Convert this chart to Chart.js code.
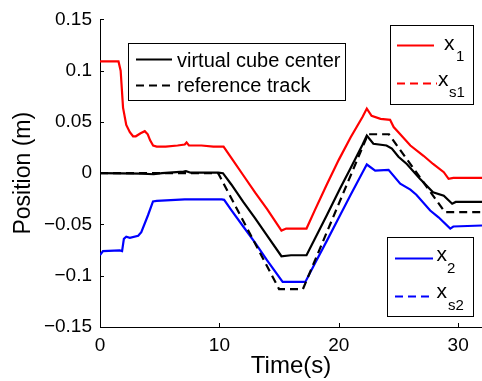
<!DOCTYPE html>
<html>
<head>
<meta charset="utf-8">
<script src="https://cdn.jsdelivr.net/npm/chart.js@4"></script>
<style>
  body { margin: 0; background: #fff; }
  canvas { display: block; }
</style>
</head>
<body>
<canvas id="chart" width="482" height="381"></canvas>
<script>
// --- data ---
const xTicks = [0, 10, 20, 30];
const yTicks = [-0.15, -0.1, -0.05, 0, 0.05, 0.1, 0.15];

const x1T = [0, 1.55, 1.73, 1.93, 2.2, 2.5, 2.77, 3.0, 3.4, 3.75, 4.0, 4.2, 4.45, 4.75, 5.5, 6.5, 7.1, 7.25, 7.45, 8.5, 9.5, 10.35, 11, 12, 13, 14, 15.2, 15.6, 16.5, 17.3, 18, 19, 20, 21, 22, 22.35, 22.75, 23.5, 24.3, 24.6, 25.15, 26.0, 27.1, 27.9, 28.8, 29.2, 29.6, 32];
const x1Y = [0.109, 0.109, 0.100, 0.064, 0.047, 0.040, 0.036, 0.036, 0.039, 0.041, 0.038, 0.032, 0.027, 0.026, 0.026, 0.027, 0.028, 0.030, 0.027, 0.027, 0.026, 0.026, 0.015, -0.002, -0.019, -0.035, -0.056, -0.054, -0.054, -0.054, -0.036, -0.011, 0.013, 0.035, 0.055, 0.063, 0.056, 0.053, 0.052, 0.045, 0.038, 0.027, 0.017, 0.009, 0.001, -0.0055, -0.0045, -0.0045];

const x2T = [0, 0.25, 1.65, 1.85, 2.0, 2.2, 2.5, 3.2, 3.46, 4.02, 4.44, 4.75, 7.1, 10.2, 10.4, 11, 12, 13, 14, 15.3, 17.2, 18, 19, 20.1, 21, 22, 22.35, 23.05, 24.17, 25.15, 26.0, 26.5, 27.66, 28.36, 29.34, 29.6, 32];
const x2Y = [-0.080, -0.076, -0.0753, -0.076, -0.064, -0.062, -0.063, -0.061, -0.0575, -0.041, -0.0275, -0.027, -0.0256, -0.0256, -0.026, -0.036, -0.052, -0.068, -0.085, -0.106, -0.106, -0.088, -0.066, -0.0412, -0.021, 0.001, 0.0085, 0.0026, 0.0033, -0.0103, -0.016, -0.021, -0.0364, -0.043, -0.054, -0.052, -0.051];

const centerT = [0, 3.5, 4.5, 5.2, 7.0, 7.2, 7.6, 9.9, 10.3, 11, 12, 13, 14, 15.2, 16, 17.3, 18, 19, 20.1, 21, 22, 22.35, 22.9, 24.0, 24.45, 25.0, 25.7, 26.8, 27.9, 28.8, 29.5, 29.8, 32];
const centerY = [0, -0.0005, -0.001, 0, 0.0015, 0.002, 0.0005, 0.0005, 0, -0.011, -0.028, -0.044, -0.061, -0.081, -0.080, -0.080, -0.064, -0.041, -0.0152, 0.005, 0.028, 0.0367, 0.0287, 0.027, 0.024, 0.016, 0.009, -0.0055, -0.0185, -0.022, -0.0298, -0.028, -0.028];

const refT = [0, 9.9, 15.0, 17.0, 22.45, 24.2, 28.9, 32];
const refY = [0, 0, -0.113, -0.113, 0.038, 0.038, -0.038, -0.038];

const FONT = '"Liberation Sans", Arial, Helvetica, sans-serif';
const DASH = [8, 5];

const pts = (t, y) => t.map((v, i) => ({ x: v, y: y[i] }));

function series(label, t, y, color, dashed) {
    return {
        label, data: pts(t, y),
        borderColor: color, backgroundColor: color,
        borderWidth: 2.2, borderDash: dashed ? DASH : [],
        pointRadius: 0, tension: 0, fill: false
    };
}

const datasets = [
    series('virtual cube center', centerT, centerY, '#000000', false),
    series('reference track', refT, refY, '#000000', true),
    series('x1', x1T, x1Y, '#ff0000', false),
    series('xs1', [], [], '#ff0000', true),
    series('x2', x2T, x2Y, '#0000ff', false),
    series('xs2', [], [], '#0000ff', true)
];

const fmt = v => {
    const r = Math.round(v * 100) / 100;
    return r === 0 ? '0' : String(r).replace('-', '\u2212');
};

// inward tick marks, MATLAB style
const innerTicks = {
    id: 'innerTicks',
    afterDraw(chart) {
        const { ctx, chartArea: a, scales: { x, y } } = chart;
        ctx.save();
        ctx.strokeStyle = '#000';
        ctx.lineWidth = 1;
        ctx.beginPath();
        xTicks.forEach(v => {
            const px = Math.round(x.getPixelForValue(v)) + 0.5;
            ctx.moveTo(px, a.bottom); ctx.lineTo(px, a.bottom - 4);
        });
        yTicks.forEach(v => {
            const py = Math.round(y.getPixelForValue(v)) + 0.5;
            ctx.moveTo(a.left, py); ctx.lineTo(a.left + 4, py);
        });
        ctx.stroke();
        ctx.restore();
    }
};

// three separate legend boxes
const boxes = [
    { rect: [128, 43, 217, 57], items: [
        { ds: 0, line: [136, 172, 59.5], text: [{ s: 'virtual cube center', x: 177, y: 66.5, size: 20 }] },
        { ds: 1, line: [136, 172, 85.5], text: [{ s: 'reference track', x: 177, y: 91.5, size: 20 }] }
    ] },
    { rect: [390, 25, 83, 79], items: [
        { ds: 2, line: [397, 434, 45.5], text: [{ s: 'x', x: 444, y: 49.5, size: 21 }, { s: '1', x: 456, y: 61, size: 15 }] },
        { ds: 3, line: [397, 437, 83.5], text: [{ s: 'x', x: 438, y: 86, size: 21 }, { s: 's1', x: 449, y: 97, size: 15 }] }
    ] },
    { rect: [387, 237, 86, 79], items: [
        { ds: 4, line: [395, 433, 258.5], text: [{ s: 'x', x: 436.5, y: 260.5, size: 21 }, { s: '2', x: 447, y: 272.5, size: 15 }] },
        { ds: 5, line: [395, 433, 296.5], text: [{ s: 'x', x: 436.5, y: 298, size: 21 }, { s: 's2', x: 448, y: 310, size: 15 }] }
    ] }
];

const boxLegend = {
    id: 'boxLegend',
    afterDraw(chart) {
        const ctx = chart.ctx;
        ctx.save();
        boxes.forEach(b => {
            const [bx, by, bw, bh] = b.rect;
            ctx.fillStyle = '#fff';
            ctx.fillRect(bx, by, bw, bh);
            ctx.strokeStyle = '#000';
            ctx.lineWidth = 1;
            ctx.setLineDash([]);
            ctx.strokeRect(bx + 0.5, by + 0.5, bw, bh);
            b.items.forEach(it => {
                const ds = chart.data.datasets[it.ds];
                ctx.strokeStyle = ds.borderColor;
                ctx.lineWidth = ds.borderWidth;
                ctx.setLineDash(ds.borderDash);
                ctx.beginPath();
                ctx.moveTo(it.line[0], it.line[2]);
                ctx.lineTo(it.line[1], it.line[2]);
                ctx.stroke();
                ctx.setLineDash([]);
                ctx.fillStyle = '#000';
                ctx.textBaseline = 'alphabetic';
                ctx.textAlign = 'left';
                it.text.forEach(t => {
                    ctx.font = t.size + 'px ' + FONT;
                    ctx.fillText(t.s, t.x, t.y);
                });
            });
        });
        ctx.restore();
    }
};

new Chart(document.getElementById('chart'), {
    type: 'line',
    data: { datasets },
    options: {
        responsive: false,
        devicePixelRatio: 1,
        animation: false,
        layout: { padding: { top: 19, right: 0, left: 0, bottom: 0 } },
        plugins: { legend: { display: false }, tooltip: { enabled: false } },
        scales: {
            x: {
                type: 'linear', min: 0, max: 32,
                afterBuildTicks: s => { s.ticks = xTicks.map(v => ({ value: v })); },
                afterFit: s => { s.height = 54; },
                grid: { display: false, drawTicks: false },
                border: { display: true, color: '#000', width: 1 },
                ticks: { color: '#000', padding: 7, maxRotation: 0, font: { family: FONT, size: 19 } },
                title: { display: true, text: 'Time(s)', color: '#000', padding: { top: 0, bottom: 0 }, font: { family: FONT, size: 24 } }
            },
            y: {
                type: 'linear', min: -0.15, max: 0.15,
                afterBuildTicks: s => { s.ticks = yTicks.map(v => ({ value: v })); },
                afterFit: s => { s.width = 100; },
                grid: { display: false, drawTicks: false },
                border: { display: true, color: '#000', width: 1 },
                ticks: { color: '#000', padding: 8, callback: v => fmt(v), font: { family: FONT, size: 19 } },
                title: { display: true, text: 'Position (m)', color: '#000', padding: { top: 10, bottom: 0 }, font: { family: FONT, size: 23 } }
            }
        }
    },
    plugins: [innerTicks, boxLegend]
});
</script>
</body>
</html>
